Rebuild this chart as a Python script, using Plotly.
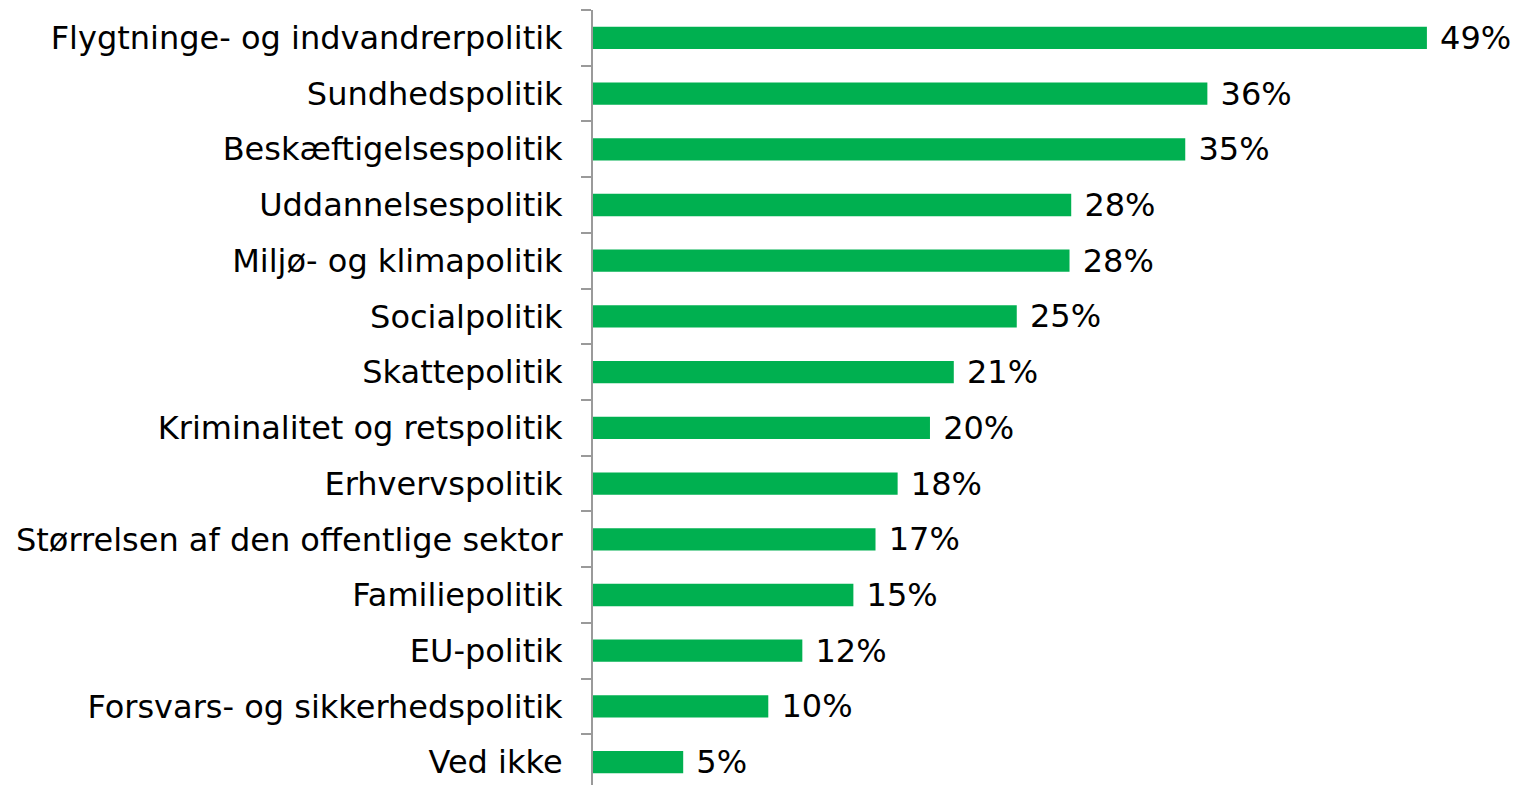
import plotly.graph_objects as go

categories = [
    "Flygtninge- og indvandrerpolitik",
    "Sundhedspolitik",
    "Beskæftigelsespolitik",
    "Uddannelsespolitik",
    "Miljø- og klimapolitik",
    "Socialpolitik",
    "Skattepolitik",
    "Kriminalitet og retspolitik",
    "Erhvervspolitik",
    "Størrelsen af den offentlige sektor",
    "Familiepolitik",
    "EU-politik",
    "Forsvars- og sikkerhedspolitik",
    "Ved ikke",
]
values = [49.0, 36.1, 34.8, 28.1, 28.0, 24.9, 21.2, 19.8, 17.9, 16.6, 15.3, 12.3, 10.3, 5.3]

font = dict(family="DejaVu Sans, Verdana, sans-serif", size=32, color="#000000")

fig = go.Figure()
fig.add_trace(go.Bar(
    x=values,
    y=categories,
    orientation="h",
    marker=dict(color="#00B050", line=dict(width=0)),
    texttemplate=" %{x:.0f}%",
    textposition="outside",
    textfont=font,
    constraintext="none",
    cliponaxis=False,
))

# the page body adds an 8px offset, so the figure is sized 8px smaller
fig.update_layout(
    width=1512,
    height=777,
    margin=dict(l=585, r=0, t=2, b=0, autoexpand=False),
    plot_bgcolor="white",
    paper_bgcolor="white",
    font=font,
    bargap=0.6,
    showlegend=False,
    xaxis=dict(range=[0, 54.47], visible=False, automargin=False),
    yaxis=dict(
        type="category",
        range=[13.41, -0.5],
        automargin=False,
        showline=True,
        linecolor="#9a9a9a",
        linewidth=2,
        ticks="outside",
        tickson="boundaries",
        ticklen=10,
        tickcolor="#9a9a9a",
        tickwidth=2,
        showgrid=False,
        tickfont=font,
        ticklabelstandoff=22,
    ),
)

fig.write_html("out.html")
